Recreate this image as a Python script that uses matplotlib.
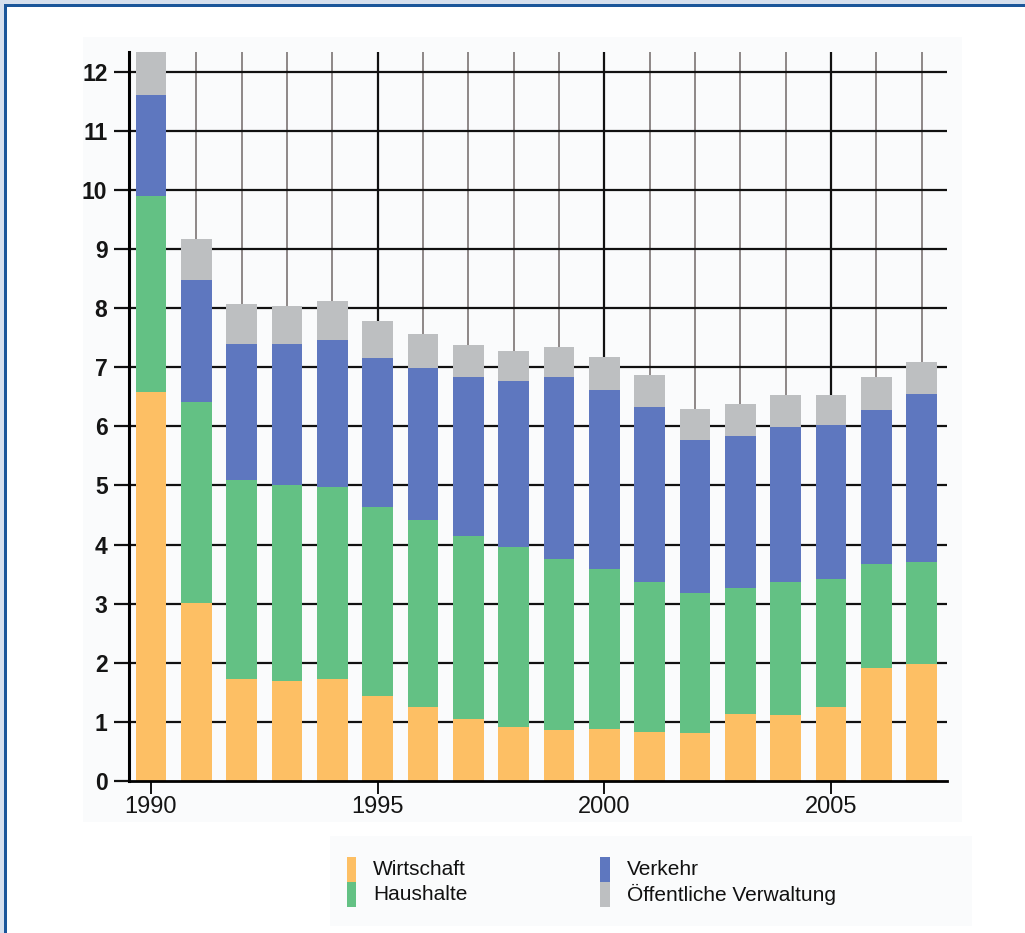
import matplotlib
matplotlib.use("Agg")
import matplotlib.pyplot as plt
from matplotlib.patches import Rectangle
import numpy as np

# Energy-related values per sector, 1990-2007
years = list(range(1990, 2008))
wirtschaft = [6.58, 3.02, 1.73, 1.69, 1.73, 1.43, 1.25, 1.05, 0.91, 0.86,
              0.88, 0.83, 0.81, 1.13, 1.12, 1.25, 1.91, 1.98]
haushalte = [3.32, 3.39, 3.36, 3.32, 3.24, 3.20, 3.16, 3.10, 3.05, 2.89,
             2.71, 2.53, 2.37, 2.13, 2.25, 2.16, 1.76, 1.73]
verkehr = [1.70, 2.07, 2.31, 2.38, 2.49, 2.53, 2.58, 2.69, 2.80, 3.09,
           3.03, 2.97, 2.59, 2.57, 2.62, 2.61, 2.61, 2.84]
verwaltung = [0.76, 0.69, 0.67, 0.64, 0.66, 0.63, 0.58, 0.54, 0.52, 0.51,
              0.55, 0.54, 0.53, 0.55, 0.54, 0.51, 0.55, 0.54]

series_names = ["Wirtschaft", "Haushalte", "Verkehr", "Öffentliche Verwaltung"]
series_colors = ["#FDBF64", "#63C184", "#5E77BF", "#BDBFC1"]
y_ticks = list(range(0, 13))
x_major = [1990, 1995, 2000, 2005]

W, H = 1025, 933
fig = plt.figure(figsize=(W / 100, H / 100), dpi=100)
fig.patch.set_facecolor("white")

def px_rect(x0, y0, x1, y1, **kw):
    """Rectangle given in pixel coordinates (origin top-left)."""
    r = Rectangle((x0 / W, 1 - y1 / H), (x1 - x0) / W, (y1 - y0) / H,
                  transform=fig.transFigure, **kw)
    fig.add_artist(r)
    return r

# page frame: light strip and dark blue rule along top and left
px_rect(0, 0, W, 3.5, facecolor="#d6e0ee", edgecolor="none", zorder=0)
px_rect(0, 0, 3.5, H, facecolor="#d6e0ee", edgecolor="none", zorder=0)
px_rect(3.5, 3.5, W, 6.5, facecolor="#1b569a", edgecolor="none", zorder=1)
px_rect(3.5, 3.5, 6.5, H, facecolor="#1b569a", edgecolor="none", zorder=1)

# faint panels behind the chart and the legend
px_rect(83, 37, 962, 822, facecolor="#fafbfc", edgecolor="none", zorder=0)
px_rect(330, 836, 972, 926, facecolor="#fafbfc", edgecolor="none", zorder=0)

ax_left, ax_right, ax_top, ax_bottom = 129, 947, 51.7, 781
ax = fig.add_axes([ax_left / W, 1 - ax_bottom / H,
                   (ax_right - ax_left) / W, (ax_bottom - ax_top) / H])
ax.patch.set_alpha(0)
ax.set_xlim(1989.515, 2007.56)
ax.set_ylim(0, 12.34)

# grid: gray vertical lines per year, black at major years and integers
for yr in years:
    major = yr in x_major
    ax.axvline(yr, color="#111111" if major else "#8e8787",
               lw=1.6 if major else 1.4, zorder=1)
for v in y_ticks[1:]:
    ax.axhline(v, color="#111111", lw=1.6, zorder=1)

# stacked bars
bottom = np.zeros(len(years))
for vals, name, col in zip([wirtschaft, haushalte, verkehr, verwaltung],
                           series_names, series_colors):
    ax.bar(years, vals, bottom=bottom, width=0.68, color=col,
           edgecolor="none", label=name, zorder=2)
    bottom += np.array(vals)

for s in ["top", "right"]:
    ax.spines[s].set_visible(False)
ax.spines["left"].set_linewidth(2.2)
ax.spines["bottom"].set_linewidth(2.0)
ax.spines["left"].set_zorder(3)
ax.spines["bottom"].set_zorder(3)

tick_font = ["Liberation Sans", "DejaVu Sans"]
ax.set_yticks(y_ticks)
ax.set_yticklabels([str(v) for v in y_ticks], fontfamily=tick_font,
                   fontsize=16.5, fontweight="bold", color="#151515")
ax.tick_params(axis="y", direction="out", length=10.5, width=1.6, pad=5,
               color="#111111")
ax.set_xticks(x_major)
ax.set_xticklabels(["1990", "1995", "2000", "2005"], fontfamily=tick_font,
                   fontsize=17, color="#151515")
ax.tick_params(axis="x", direction="out", length=9, width=1.4, pad=1.5,
               color="#111111")

# legend: narrow colour swatches stacked in two columns
leg_font = ["Liberation Sans", "DejaVu Sans"]
legend_cols = [(346.5, 373, [0, 1]), (600, 627, [2, 3])]
for sx, tx, idx in legend_cols:
    for row, i in enumerate(idx):
        y0 = 856.5 + row * 25
        px_rect(sx, y0, sx + 9.5, y0 + 25, facecolor=series_colors[i],
                edgecolor="none", zorder=2)
        fig.text(tx / W, 1 - (y0 + 13) / H, series_names[i],
                 fontfamily=leg_font, fontsize=15, va="center", ha="left",
                 color="#111111")

fig.savefig("out.png", dpi=100)
